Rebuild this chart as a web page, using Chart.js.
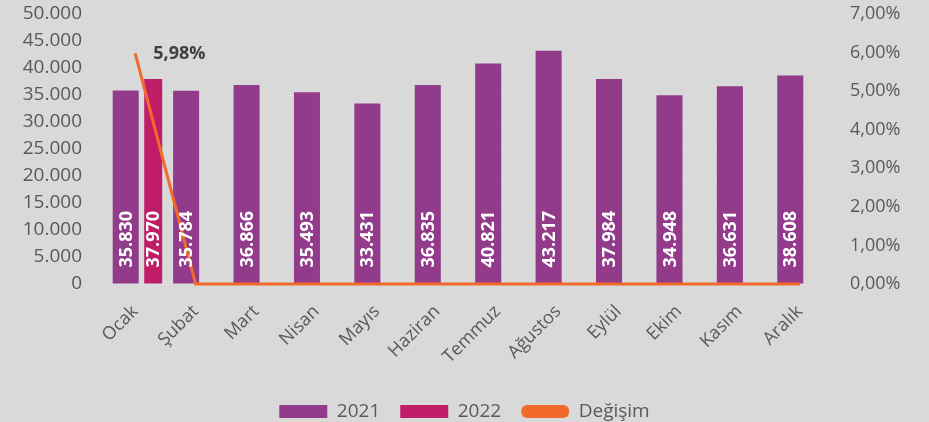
<!DOCTYPE html>
<html>
<head>
<meta charset="utf-8">
<script src="https://cdn.jsdelivr.net/npm/chart.js@4"></script>
<style>
  html, body { margin: 0; padding: 0; background: #d9d9d9; }
  #wrap { width: 929px; height: 422px; }
</style>
</head>
<body>
<div id="wrap"><canvas id="canvas" width="929" height="422"></canvas></div>
<script>
var months = ['Ocak', 'Şubat', 'Mart', 'Nisan', 'Mayıs', 'Haziran', 'Temmuz', 'Ağustos', 'Eylül', 'Ekim', 'Kasım', 'Aralık'];
var values2021 = [35830, 35784, 36866, 35493, 33431, 36835, 40821, 43217, 37984, 34948, 36631, 38608];
var values2022 = [37970, null, null, null, null, null, null, null, null, null, null, null];
var changePct = [5.98, 0, 0, 0, 0, 0, 0, 0, 0, 0, 0, 0];
var changeLabels = ['5,98%', '', '', '', '', '', '', '', '', '', '', ''];

var purple = '#913b8a';
var magenta = '#c01d69';
var orange = '#f26a2b';
var grey = '#595959';

Chart.defaults.font.family = "'Open Sans', sans-serif";
Chart.defaults.color = grey;

function formatThousands(v) {
  return String(v).replace(/\B(?=(\d{3})+(?!\d))/g, '.');
}

// value labels: vertical white numbers inside bars, bold label next to line point
var labelPlugin = {
  id: 'valueLabels',
  afterDatasetsDraw: function(chart) {
    var ctx = chart.ctx;
    chart.data.datasets.forEach(function(ds, di) {
      var meta = chart.getDatasetMeta(di);
      meta.data.forEach(function(el, i) {
        var v = ds.data[i];
        if (v === null || v === undefined) return;
        ctx.save();
        if (ds.type === 'line') {
          if (!changeLabels[i]) { ctx.restore(); return; }
          ctx.fillStyle = '#404040';
          ctx.font = "bold 18px 'Open Sans', sans-serif";
          ctx.textAlign = 'left';
          ctx.textBaseline = 'middle';
          ctx.fillText(changeLabels[i], el.x + 18, el.y + 1);
        } else {
          ctx.translate(el.x, el.base - 16);
          ctx.rotate(-Math.PI / 2);
          ctx.fillStyle = '#ffffff';
          ctx.font = "bold 18px 'Open Sans', sans-serif";
          ctx.textAlign = 'left';
          ctx.textBaseline = 'middle';
          ctx.fillText(formatThousands(v), 0, 1);
        }
        ctx.restore();
      });
    });
  }
};

function noVerticalPadding(scale) {
  scale.paddingTop = 0;
  scale.paddingBottom = 0;
}

var chartInstance = new Chart(document.getElementById('canvas'), {
  type: 'bar',
  data: {
    labels: months,
    datasets: [{
      label: '2021',
      data: values2021,
      backgroundColor: purple,
      categoryPercentage: 0.629,
      barPercentage: 1.37,
      yAxisID: 'y',
      order: 1
    }, {
      label: '2022',
      data: values2022,
      backgroundColor: magenta,
      categoryPercentage: 1.191,
      barPercentage: 0.5,
      yAxisID: 'y',
      order: 1
    }, {
      type: 'line',
      label: 'Değişim',
      data: changePct,
      borderColor: orange,
      backgroundColor: orange,
      borderWidth: 3,
      pointRadius: 0,
      tension: 0,
      clip: 4,
      yAxisID: 'y1',
      order: 0
    }]
  },
  options: {
    responsive: false,
    animation: false,
    layout: { padding: { top: 14, left: 0, right: 0, bottom: -9 } },
    plugins: {
      tooltip: { enabled: false },
      legend: {
        position: 'bottom',
        labels: {
          boxWidth: 48,
          boxHeight: 13,
          padding: 20,
          color: grey,
          font: { size: 19 },
          useBorderRadius: true,
          generateLabels: function(chart) {
            return chart.data.datasets.map(function(ds, i) {
              return {
                text: ds.label,
                fillStyle: ds.type === 'line' ? ds.borderColor : ds.backgroundColor,
                strokeStyle: ds.type === 'line' ? ds.borderColor : ds.backgroundColor,
                lineWidth: 0,
                borderRadius: ds.type === 'line' ? 6 : 0,
                fontColor: grey,
                hidden: false,
                datasetIndex: i
              };
            });
          }
        }
      }
    },
    scales: {
      x: {
        grid: { display: false, drawTicks: false },
        border: { display: false },
        ticks: {
          minRotation: 45,
          maxRotation: 45,
          padding: 17,
          color: grey,
          font: { size: 18 }
        },
        afterFit: function(scale) { scale.height = 98; }
      },
      y: {
        position: 'left',
        min: 0,
        max: 50000,
        grid: { color: 'rgba(255,255,255,0.14)', drawTicks: false },
        border: { display: false },
        ticks: {
          stepSize: 5000,
          padding: 23,
          color: grey,
          font: { size: 19 },
          callback: function(v) { return formatThousands(v); }
        },
        afterFit: function(scale) { scale.width = 105; noVerticalPadding(scale); }
      },
      y1: {
        position: 'right',
        min: 0,
        max: 7,
        grid: { display: false, drawTicks: false },
        border: { display: false },
        ticks: {
          stepSize: 1,
          padding: 20,
          color: grey,
          font: { size: 18 },
          callback: function(v) { return v.toFixed(2).replace('.', ',') + '%'; }
        },
        afterFit: function(scale) { scale.width = 99; noVerticalPadding(scale); }
      }
    }
  },
  plugins: [labelPlugin]
});
</script>
</body>
</html>
